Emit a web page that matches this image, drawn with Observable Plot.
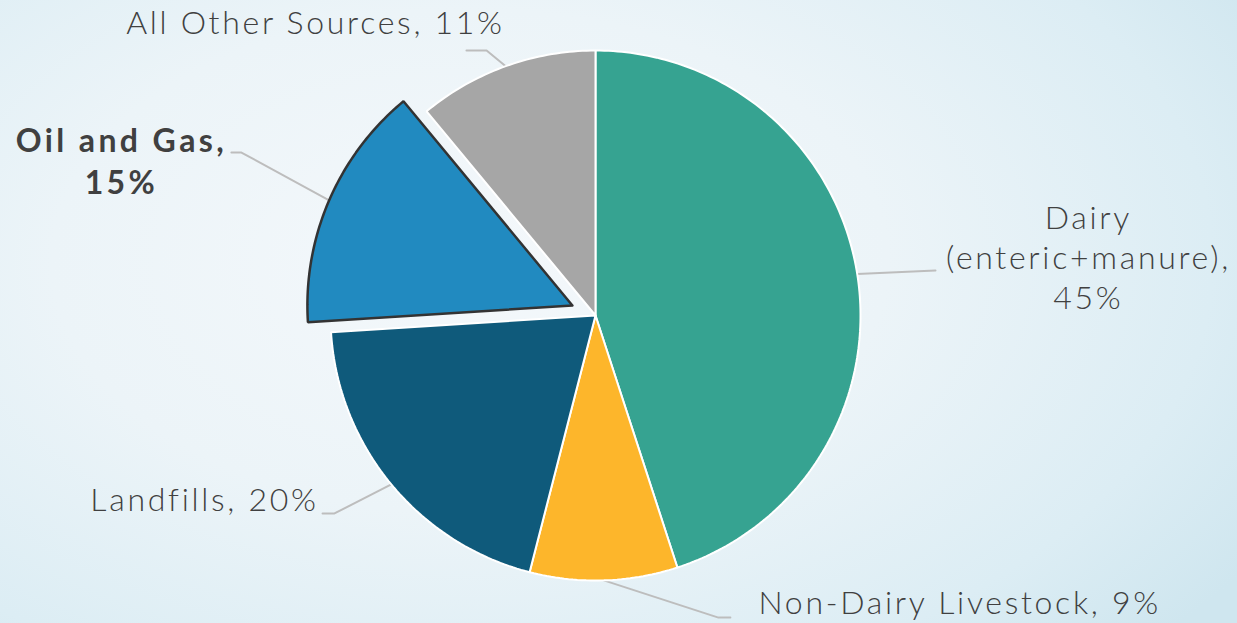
<!DOCTYPE html>
<html><head><meta charset="utf-8">
<script src="https://cdn.jsdelivr.net/npm/d3@7"></script>
<script src="https://cdn.jsdelivr.net/npm/@observablehq/plot@0.6"></script>
<style>
html,body{margin:0;padding:0;width:1237px;height:623px;overflow:hidden;}
body{background: radial-gradient(ellipse 75% 90% at 38% 42%, #f4f8fb 0%, #ecf4f8 45%, #dcedf4 80%, #cfe6ef 100%);}
#chart svg{display:block;background:transparent;}
#chart svg text{letter-spacing:2.7px;}
#chart svg text.bold{letter-spacing:3.4px;}
</style></head><body><div id="chart"></div>
<script>
// ---- data ----
const categories = ["Dairy", "Non-Dairy Livestock", "Landfills", "Oil and Gas", "All Other Sources"];
const shares = [45, 9, 20, 15, 11];
const labelTexts = ["Dairy\n(enteric+manure),\n45%", "Non-Dairy Livestock, 9%", "Landfills, 20%", "Oil and Gas,\n15%", "All Other Sources, 11%"];
const sliceColors = ["#36a391", "#fdb62b", "#0f5a7b", "#218ac0", "#a6a6a6"];
const explodedSlice = "Oil and Gas";

// ---- layout (radius units, pie centre = 0,0, y up) ----
const W = 1237, H = 623, CX = 595, CY = 315, R = 265;
const explode = 0.095;
const labelLayout = [
  {anchor: "middle", tx: 1.860, ty: 0.026, elbow: [1.283, 0.170], end: [1.283, 0.170]},
  {anchor: "start",  tx: 0.615, ty: -1.125, elbow: [0.464, -1.140], end: [0.509, -1.140]},
  {anchor: "end",    tx: -1.045, ty: -0.736, elbow: [-0.985, -0.747], end: [-1.030, -0.747]},
  {anchor: "middle", tx: -1.789, ty: 0.460, elbow: [-1.336, 0.615], end: [-1.374, 0.615]},
  {anchor: "middle", tx: -1.057, ty: 1.064, elbow: [-0.411, 1.0], end: [-0.487, 1.0]}
];

const table = categories.map((c, i) => ({name: c, share: shares[i], label: labelTexts[i], ...labelLayout[i]}));
const arcs = d3.pie().sort(null).value(d => d.share)(table);

const slicePts = [], leaderPts = [], labels = [];
arcs.forEach(a => {
  const d = a.data;
  const mid = (a.startAngle + a.endAngle) / 2;
  const off = d.name === explodedSlice ? explode : 0;
  const ox = off * Math.sin(mid), oy = off * Math.cos(mid);
  const n = Math.max(8, Math.ceil((a.endAngle - a.startAngle) * 60));
  const pts = [[ox, oy]];
  for (let k = 0; k <= n; k++) {
    const t = a.startAngle + (a.endAngle - a.startAngle) * k / n;
    pts.push([ox + Math.sin(t), oy + Math.cos(t)]);
  }
  pts.push([ox, oy]);
  pts.forEach(([x, y], k) => slicePts.push({name: d.name, k, x, y, exploded: off > 0}));
  const s = [ox + Math.sin(mid), oy + Math.cos(mid)];
  [s, d.elbow, d.end].forEach(([x, y], k) => leaderPts.push({name: d.name, k, x, y}));
  labels.push({name: d.name, text: d.label, x: d.tx, y: d.ty, anchor: d.anchor, bold: off > 0});
});

const font = "Lato, 'Open Sans', sans-serif";
const textMark = (filter, opts) => Plot.text(labels.filter(filter), {
  x: "x", y: "y", text: "text", lineAnchor: "bottom", fill: "#404040",
  fontSize: 32, fontFamily: font, fontWeight: 300, ...opts
});

const chart = Plot.plot({
  width: W, height: H,
  margin: 0,
  x: {domain: [-CX / R, (W - CX) / R], range: [0, W], axis: null},
  y: {domain: [-(H - CY) / R, CY / R], range: [H, 0], axis: null},
  color: {domain: categories, range: sliceColors},
  style: {background: "transparent", overflow: "visible"},
  marks: [
    Plot.line(leaderPts, {x: "x", y: "y", z: "name", stroke: "#bdbdbd", strokeWidth: 2, curve: "linear"}),
    Plot.line(slicePts.filter(d => !d.exploded), {x: "x", y: "y", z: "name", fill: "name", stroke: "white", strokeWidth: 2, strokeLinejoin: "miter"}),
    Plot.line(slicePts.filter(d => d.exploded), {x: "x", y: "y", z: "name", fill: "name", stroke: "#333333", strokeWidth: 2.5, strokeLinejoin: "miter"}),
    textMark(d => !d.bold && d.anchor === "middle" && d.name === "Dairy", {textAnchor: "middle", lineHeight: 1.25}),
    textMark(d => !d.bold && d.anchor === "middle" && d.name !== "Dairy", {textAnchor: "middle"}),
    textMark(d => !d.bold && d.anchor === "start", {textAnchor: "start"}),
    textMark(d => !d.bold && d.anchor === "end", {textAnchor: "end"}),
    textMark(d => d.bold, {textAnchor: "middle", fontWeight: "bold", lineHeight: 1.3, className: "bold"})
  ]
});
chart.querySelectorAll("g[aria-label='text']").forEach(g => {
  if (g.getAttribute("font-weight") === "bold") g.querySelectorAll("text").forEach(t => t.classList.add("bold"));
});
document.getElementById("chart").appendChild(chart);
</script></body></html>
